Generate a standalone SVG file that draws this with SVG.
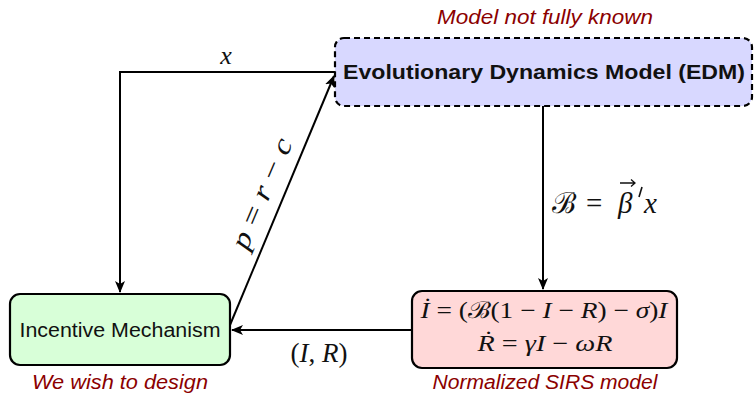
<svg xmlns="http://www.w3.org/2000/svg" width="755" height="394" viewBox="0 0 755 394">
<defs>
<marker id="arr" viewBox="0 0 12 10" refX="11" refY="5" markerWidth="12" markerHeight="10" markerUnits="userSpaceOnUse" orient="auto">
<path d="M0,0 L12,5 L0,10 L3,5 Z" fill="#000"/>
</marker>
</defs>
<style>
.box{stroke:#000;stroke-width:2.2}
.lbl{font-family:"Liberation Sans","DejaVu Sans",sans-serif;font-size:20px;fill:#111;text-anchor:middle}
.note{font-family:"Liberation Sans","DejaVu Sans",sans-serif;font-size:20px;font-style:italic;fill:#8b0000;text-anchor:middle}
.math{font-family:"Liberation Serif","DejaVu Serif",serif;fill:#111;text-anchor:middle}
.st{text-anchor:start}
.i{font-style:italic}
.con{fill:none;stroke:#000;stroke-width:2}
</style>
<g id="edm">
<rect class="box" x="335" y="38" width="417" height="68" rx="9" fill="#d8d8ff" stroke-dasharray="6,4" stroke-width="3"/>
<text class="lbl" x="544" y="79" font-size="21" font-weight="bold" textLength="402" lengthAdjust="spacingAndGlyphs">Evolutionary Dynamics Model (EDM)</text>
<text class="note" x="545" y="24" textLength="216" lengthAdjust="spacingAndGlyphs">Model not fully known</text>
</g>
<g id="incentive">
<rect class="box" x="10" y="294" width="220" height="71" rx="10" fill="#d8ffd8"/>
<text class="lbl" x="120" y="337" textLength="201" lengthAdjust="spacingAndGlyphs">Incentive Mechanism</text>
<text class="note" x="120" y="389" textLength="176" lengthAdjust="spacingAndGlyphs">We wish to design</text>
</g>
<g id="sirs">
<rect class="box" x="412" y="291" width="265" height="77" rx="10" fill="#ffd8d8"/>
<text class="math" x="544" y="318" font-size="23" textLength="247" lengthAdjust="spacingAndGlyphs"><tspan class="i">İ</tspan> = (ℬ(1 − <tspan class="i">I</tspan> − <tspan class="i">R</tspan>) − <tspan class="i">σ</tspan>)<tspan class="i">I</tspan></text>
<text class="math" x="545" y="351" font-size="23" textLength="135" lengthAdjust="spacingAndGlyphs"><tspan class="i">Ṙ</tspan> = <tspan class="i">γI</tspan> − <tspan class="i">ωR</tspan></text>
<text class="note" x="545" y="389" textLength="225" lengthAdjust="spacingAndGlyphs">Normalized SIRS model</text>
</g>
<g id="connectors">
<polyline class="con" points="335,72 120,72 120,292" marker-end="url(#arr)"/>
<line class="con" x1="230" y1="325" x2="334" y2="76" marker-end="url(#arr)"/>
<line class="con" x1="543" y1="106" x2="543" y2="289" marker-end="url(#arr)"/>
<line class="con" x1="412" y1="330" x2="232" y2="330" marker-end="url(#arr)"/>
<text class="math i" x="226" y="64" font-size="26">x</text>
<text class="math" x="0" y="0" font-size="28" textLength="118" lengthAdjust="spacingAndGlyphs" transform="translate(270,197) rotate(-67)"><tspan class="i">p</tspan> = <tspan class="i">r</tspan> − <tspan class="i">c</tspan></text>
<text class="math st" x="552" y="213" font-size="29">ℬ</text>
<text class="math st" x="586" y="213" font-size="29">=</text>
<text class="math st i" x="618" y="213" font-size="29">β</text>
<path d="M620,183 L635,183 M631,179.5 L635,183 L631,186.5" fill="none" stroke="#111" stroke-width="1.3"/>
<path d="M642,187 L639,197" fill="none" stroke="#111" stroke-width="1.6"/>
<text class="math st i" x="644" y="213" font-size="29">x</text>
<text class="math" x="319" y="362" font-size="27">(<tspan class="i">I</tspan>, <tspan class="i">R</tspan>)</text>
</g>
</svg>
